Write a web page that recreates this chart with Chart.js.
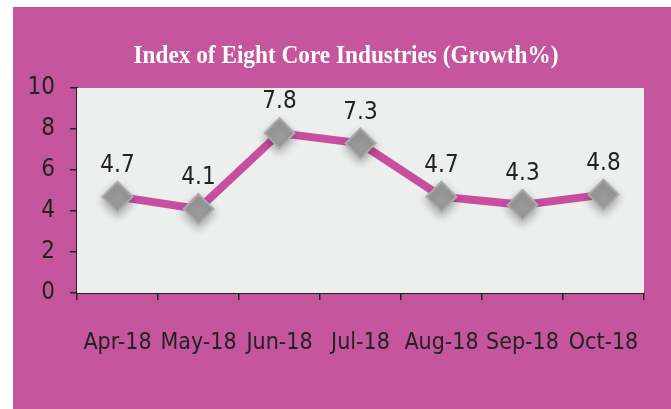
<!DOCTYPE html>
<html lang="en">
<head>
  <meta charset="UTF-8">
  <title>Index of Eight Core Industries</title>
  <script src="https://cdn.jsdelivr.net/npm/chart.js"></script>
  <style>
    html, body { margin: 0; padding: 0; background: #fff; }
    #box { position: absolute; left: 13px; top: 7px; width: 658px; height: 402px; background: #C5569D; }
  </style>
</head>
<body>
  <div id="box">
    <canvas id="chart" width="658" height="402"></canvas>
  </div>
  <script>
    const months = ['Apr-18', 'May-18', 'Jun-18', 'Jul-18', 'Aug-18', 'Sep-18', 'Oct-18'];
    const growth = [4.7, 4.1, 7.8, 7.3, 4.7, 4.3, 4.8];
    const yTicks = [0, 2, 4, 6, 8, 10];
    const titleText = 'Index of Eight Core Industries (Growth%)';

    const labelFont = '"Liberation Sans Narrow", "DejaVu Sans Condensed", sans-serif';

    // plot area background
    const plotBg = {
      id: 'plotBg',
      beforeDatasetsDraw(chart) {
        const a = chart.chartArea, c = chart.ctx;
        c.save();
        c.fillStyle = '#EDEEEE';
        c.fillRect(a.left, a.top, a.right - a.left, a.bottom - a.top);
        c.restore();
      }
    };

    // condensed bold serif title, like the original
    const squeezedTitle = {
      id: 'squeezedTitle',
      afterDraw(chart) {
        const c = chart.ctx;
        c.save();
        c.font = 'bold 26px "Liberation Serif", "DejaVu Serif", serif';
        c.fillStyle = '#fff';
        c.textAlign = 'center';
        c.textBaseline = 'alphabetic';
        const w = c.measureText(titleText).width;
        const sx = Math.min(1, 425 / w);
        c.translate(333, 56);
        c.scale(sx, 1);
        c.fillText(titleText, 0, 0);
        c.restore();
      }
    };

    // soft shadow under the diamonds only
    const markerShadow = {
      id: 'markerShadow',
      beforeDatasetDraw(chart, args) {
        if (args.index !== 1) return;
        const c = chart.ctx;
        c.save();
        c.shadowColor = 'rgba(0,0,0,0.28)';
        c.shadowBlur = 8;
        c.shadowOffsetY = 4;
      },
      afterDatasetDraw(chart, args) {
        if (args.index !== 1) return;
        chart.ctx.restore();
      }
    };

    // value labels above points
    const valueLabels = {
      id: 'valueLabels',
      afterDatasetsDraw(chart) {
        const c = chart.ctx;
        const meta = chart.getDatasetMeta(1);
        c.save();
        c.font = '24px ' + labelFont;
        c.fillStyle = '#222';
        c.textAlign = 'center';
        c.textBaseline = 'middle';
        meta.data.forEach((p, i) => {
          c.fillText(growth[i].toFixed(1), p.x, p.y - 31);
        });
        c.restore();
      }
    };

    new Chart(document.getElementById('chart'), {
      type: 'line',
      data: {
        labels: months,
        datasets: [
          {
            data: growth,
            order: 1,
            borderColor: '#C84FA0',
            borderWidth: 8,
            pointRadius: 0,
            tension: 0
          },
          {
            data: growth,
            order: 0,
            showLine: false,
            pointStyle: 'rectRot',
            pointRadius: 15,
            pointBackgroundColor: '#9C9C9C',
            pointBorderColor: '#ABABAB',
            pointBorderWidth: 2
          }
        ]
      },
      options: {
        responsive: false,
        animation: false,
        layout: { padding: { left: 0, right: 27, top: 81, bottom: 0 } },
        plugins: {
          legend: { display: false },
          tooltip: { enabled: false },
          title: { display: false }
        },
        scales: {
          x: {
            offset: true,
            grid: { offset: true, drawOnChartArea: false, drawTicks: true, tickLength: 7, color: '#222', lineWidth: 1.5 },
            border: { display: true, color: '#222', width: 2 },
            ticks: { color: '#222', padding: 29, font: { family: labelFont, size: 23 }, maxRotation: 0, autoSkip: false },
            afterFit(s) { s.height = 116; }
          },
          y: {
            min: 0,
            max: 10,
            afterBuildTicks(s) { s.ticks = yTicks.map(v => ({ value: v })); },
            grid: { drawOnChartArea: false, drawTicks: true, tickLength: 7, color: '#222', lineWidth: 1.5 },
            border: { display: true, color: '#222', width: 2 },
            ticks: { color: '#222', padding: 15, font: { family: labelFont, size: 24 } },
            afterFit(s) { s.width = 64; }
          }
        }
      },
      plugins: [plotBg, markerShadow, valueLabels, squeezedTitle]
    });
  </script>
</body>
</html>
